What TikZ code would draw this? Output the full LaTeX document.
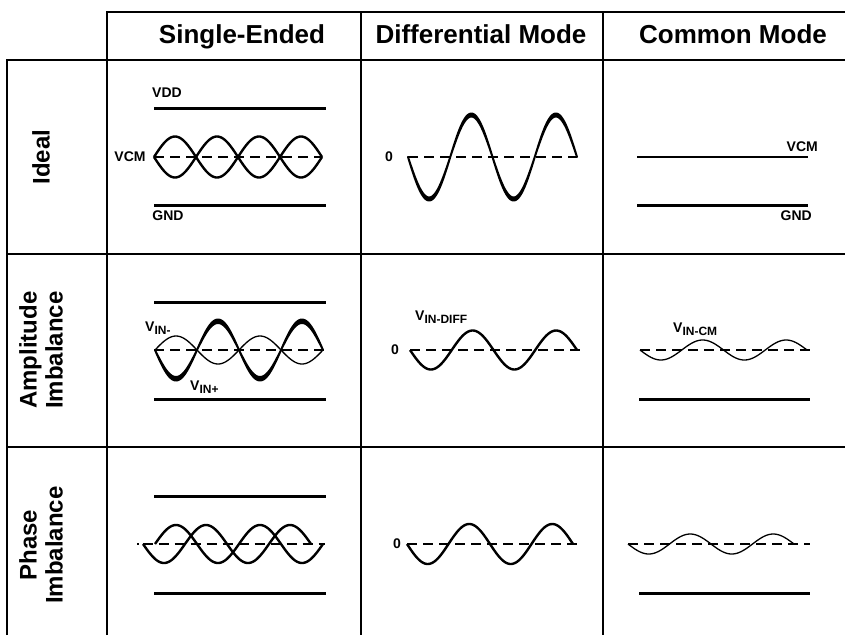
\documentclass[tikz,border=0pt]{standalone}
\usepackage{fontspec}
\setmainfont{Liberation Sans}
\begin{document}
\begin{tikzpicture}[x=1pt,y=-1pt,
  border/.style={line width=2.8pt},
  rail/.style={line width=3pt},
  thinrail/.style={line width=1.4pt},
  zeroline/.style={line width=1.4pt, dash pattern=on 10pt off 6pt},
  wave/.style={line width=2.4pt, line join=round},
  band/.style={line width=2pt, line join=round, fill=black},
  thinwave/.style={line width=1.3pt, line join=round},
  hdr/.style={font=\fontsize{26}{28}\selectfont\bfseries, inner sep=0pt, anchor=base},
  rowlbl/.style={font=\fontsize{24}{26}\selectfont\bfseries, rotate=90, align=center, inner sep=0pt},
  lbl/.style={font=\fontsize{14}{16}\selectfont\bfseries, inner sep=0pt},
]
\newcommand{\subs}[1]{\raisebox{-3.5pt}{\fontsize{12}{12}\selectfont #1}}
\useasboundingbox (0,0) rectangle (845,635);
% grid
\draw[border] (107,635) -- (107,12) -- (845,12);
\draw[border] (7,635) -- (7,60) -- (845,60);
\draw[border] (361,12) -- (361,635);
\draw[border] (603,12) -- (603,635);
\draw[border] (7,254) -- (845,254);
\draw[border] (7,447) -- (845,447);
% headers
\node[hdr] (hse) at (242,43) {Single-Ended};
\node[hdr] (hdm) at (481,43) {Differential Mode};
\node[hdr] (hcm) at (733,43) {Common Mode};
% row labels
\node[rowlbl] (rideal) at (41,157) {Ideal};
\node[rowlbl] (rampl) at (41,350) {Amplitude\\Imbalance};
\node[rowlbl] (rphase) at (41,545) {Phase\\Imbalance};

% ---------- Ideal / Single-ended
\draw[rail] (154,108) -- (326,108);
\draw[rail] (154,205) -- (326,205);
\draw[zeroline] (154,157) -- (322,157);
\draw[wave] plot[domain=154:322, samples=120, variable=\x] ({\x},{157+20.5*sin((\x-154)/42*180)});
\draw[wave] plot[domain=154:322, samples=120, variable=\x] ({\x},{157-20.5*sin((\x-154)/42*180)});
\node[lbl] (vdd) at (167,93) {VDD};
\node[lbl] (gnd1) at (168,216) {GND};
\node[lbl] (vcm1) at (130,157) {VCM};

% ---------- Ideal / Differential
\draw[zeroline] (408,157) -- (577,157);
\filldraw[band] plot[domain=408:577, samples=120, variable=\x] ({\x},{157+40.5*sin((\x-408)/42.25*180)})
  -- plot[domain=577:408, samples=120, variable=\x] ({\x},{157+43.5*sin((\x-408)/42.25*180)}) -- cycle;
\node[lbl] (zero1) at (389,157) {0};

% ---------- Ideal / Common
\draw[thinrail] (637,157) -- (808,157);
\draw[rail] (637,205) -- (808,205);
\node[lbl, anchor=east] (vcm2) at (818,147) {VCM};
\node[lbl, anchor=east] (gnd2) at (812,216) {GND};

% ---------- Amplitude / Single-ended
\draw[rail] (154,302) -- (326,302);
\draw[rail] (154,399) -- (326,399);
\draw[zeroline] (154,350) -- (325,350);
\filldraw[band] plot[domain=155:323, samples=120, variable=\x] ({\x},{350+27*sin((\x-155)/42*180)})
  -- plot[domain=323:155, samples=120, variable=\x] ({\x},{350+30.5*sin((\x-155)/42*180)}) -- cycle;
\draw[thinwave] plot[domain=155:323, samples=120, variable=\x] ({\x},{350-14*sin((\x-155)/42*180)});
\node[lbl, anchor=base west] (vinm) at (145,331) {V\subs{IN-}};
\node[lbl, anchor=base west] (vinp) at (190,390) {V\subs{IN+}};

% ---------- Amplitude / Differential
\draw[zeroline] (410,350) -- (580,350);
\draw[wave] plot[domain=410:577, samples=120, variable=\x] ({\x},{350+19.5*sin((\x-410)/41.75*180)});
\node[lbl] (zero2) at (395,350) {0};
\node[lbl, anchor=base west] (vdiff) at (415,320) {V\subs{IN-DIFF}};

% ---------- Amplitude / Common
\draw[zeroline] (640,350) -- (810,350);
\draw[thinwave] plot[domain=640:807, samples=120, variable=\x] ({\x},{350+10*sin((\x-640)/41.75*180)});
\draw[rail] (639,399) -- (810,399);
\node[lbl, anchor=base west] (vcmlbl) at (673,332) {V\subs{IN-CM}};

% ---------- Phase / Single-ended
\draw[rail] (154,496) -- (326,496);
\draw[rail] (154,593) -- (326,593);
\draw[zeroline, dash pattern=on 1.5pt off 4pt on 10pt off 6pt on 10pt off 6pt on 10pt off 6pt on 10pt off 6pt on 10pt off 6pt on 10pt off 6pt on 10pt off 6pt on 10pt off 6pt on 10pt off 6pt on 10pt off 6pt on 10pt off 6pt on 10pt off 6pt] (137,544) -- (325,544);
\draw[wave] plot[domain=155:323, samples=120, variable=\x] ({\x},{544-19*sin((\x-155)/42*180)});
\draw[wave] plot[domain=143:311, samples=120, variable=\x] ({\x},{544+19*sin((\x-143)/42*180)});

% ---------- Phase / Differential
\draw[zeroline] (407,544) -- (580,544);
\draw[wave] plot[domain=407:573, samples=120, variable=\x] ({\x},{544+20*sin((\x-407)/41.5*180)});
\node[lbl] (zero3) at (397,544) {0};

% ---------- Phase / Common
\draw[zeroline] (628,544) -- (810,544);
\draw[thinwave] plot[domain=628:794, samples=120, variable=\x] ({\x},{544+10*sin((\x-628)/41.5*180)});
\draw[rail] (639,593) -- (810,593);
\end{tikzpicture}
\end{document}
